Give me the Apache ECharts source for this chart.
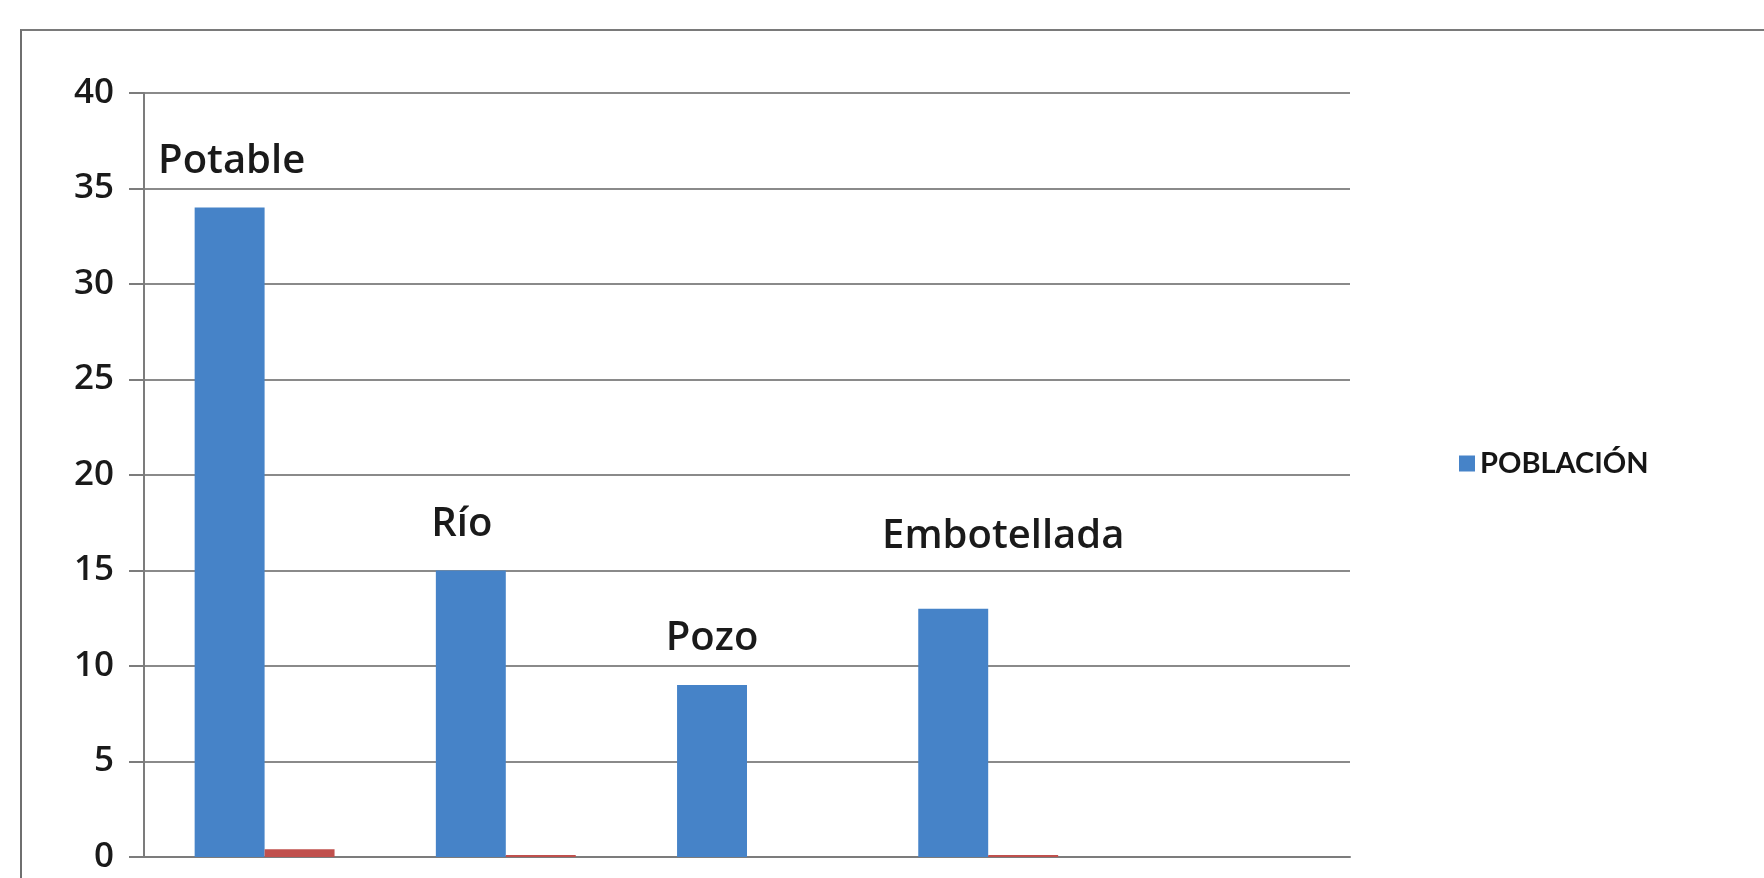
<!DOCTYPE html>
<html>
<head>
<meta charset="utf-8">
<script src="https://cdn.jsdelivr.net/npm/echarts@6/dist/echarts.min.js"></script>
<style>
  html, body { margin: 0; padding: 0; background: #ffffff; }
  #frame {
    position: absolute; left: 20px; top: 29px; width: 1800px; height: 900px;
    border-left: 2px solid #6f6f6f; border-top: 2px solid #7a7a7a;
  }
  #chart { position: absolute; left: 0; top: 0; width: 1764px; height: 878px; }
</style>
</head>
<body>
<div id="frame"></div>
<div id="chart"></div>
<script>
// Fuente de agua de consumo
const categories = ['Potable', 'Río', 'Pozo', 'Embotellada', ''];
const poblacion = [34, 15, 9, 13, 0];
const serie2 = [0.4, 0.1, 0, 0.1, 0];
const yTicks = [0, 5, 10, 15, 20, 25, 30, 35, 40];

// label nudges for the category names drawn over each bar
const labelNudge = {
  'Potable': [2, 0],
  'Río': [-9, 0],
  'Pozo': [0, 0],
  'Embotellada': [50, -26]
};

const chart = echarts.init(document.getElementById('chart'));

const blueData = poblacion.map((v, i) => {
  const name = categories[i];
  const item = { value: v };
  if (name) {
    item.label = { show: true, offset: labelNudge[name] || [0, 0] };
  }
  return item;
});

chart.setOption({
  animation: false,
  backgroundColor: 'transparent',
  textStyle: { fontFamily: '"Open Sans", Lato, sans-serif' },
  grid: { left: 144, right: 414, top: 93, bottom: 21, containLabel: false },
  legend: {
    data: ['POBLACIÓN'],
    orient: 'vertical',
    left: 1454,
    top: 444,
    icon: 'rect',
    itemWidth: 16,
    itemHeight: 16,
    itemGap: 10,
    textStyle: { fontFamily: 'Lato, sans-serif', fontWeight: 'bold', fontSize: 29, color: '#161616' }
  },
  xAxis: {
    type: 'category',
    data: categories,
    axisLine: { show: true, lineStyle: { color: '#7c7c7c', width: 2 } },
    axisTick: { show: false },
    axisLabel: { show: false },
    splitLine: { show: false }
  },
  yAxis: {
    type: 'value',
    min: yTicks[0],
    max: yTicks[yTicks.length - 1],
    interval: yTicks[1] - yTicks[0],
    axisLine: { show: true, lineStyle: { color: '#7c7c7c', width: 2 } },
    axisTick: { show: true, length: 15, lineStyle: { color: '#7c7c7c', width: 2 } },
    axisLabel: {
      margin: 30,
      fontFamily: '"Open Sans", sans-serif',
      fontWeight: 600,
      fontSize: 35,
      color: '#1a1a1a'
    },
    splitLine: { show: true, lineStyle: { color: '#8a8a8a', width: 2 } }
  },
  series: [
    {
      name: 'POBLACIÓN',
      type: 'bar',
      data: blueData,
      barGap: '0%',
      barCategoryGap: '42%',
      itemStyle: { color: '#4683c8' },
      label: {
        show: false,
        position: 'top',
        distance: 26,
        fontFamily: '"Open Sans", sans-serif',
        fontWeight: 600,
        fontSize: 40,
        color: '#1a1a1a',
        formatter: (p) => p.name
      }
    },
    {
      name: 'Serie 2',
      type: 'bar',
      data: serie2,
      barGap: '0%',
      barCategoryGap: '42%',
      itemStyle: { color: '#c0504d' }
    }
  ]
});
</script>
</body>
</html>
